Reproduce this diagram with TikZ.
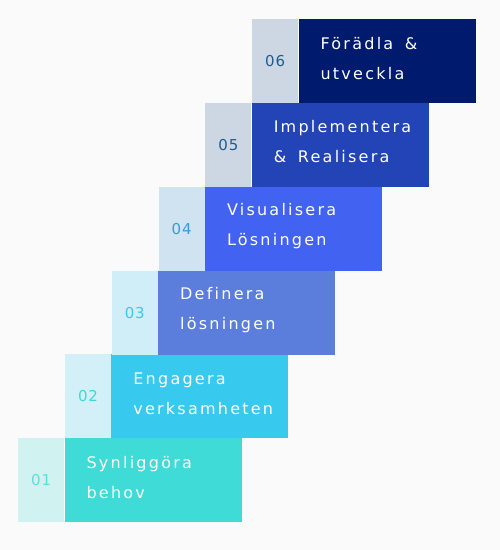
\documentclass[tikz,border=0pt]{standalone}
\usepackage{fontspec}
\newfontfamily\stepfont{DejaVu Sans}[LetterSpace=14,WordSpace=1.6,Ligatures=NoCommon]
\newfontfamily\numfont{DejaVu Sans}[LetterSpace=6]
\usetikzlibrary{positioning}

\definecolor{bgc}{HTML}{FAFAFA}
\definecolor{light1}{HTML}{D0F3F2}
\definecolor{light2}{HTML}{D3EFF8}
\definecolor{light3}{HTML}{D0EEF8}
\definecolor{light4}{HTML}{CFE3F1}
\definecolor{light5}{HTML}{CDD7E3}
\definecolor{light6}{HTML}{CDD7E3}
\definecolor{dark1}{HTML}{3FDBD7}
\definecolor{dark2}{HTML}{38C9EF}
\definecolor{dark3}{HTML}{5B7EDD}
\definecolor{dark4}{HTML}{4262F1}
\definecolor{dark5}{HTML}{2244B6}
\definecolor{dark6}{HTML}{001B6E}
\definecolor{num1}{HTML}{5CDFDB}
\definecolor{num2}{HTML}{3ED9D6}
\definecolor{num3}{HTML}{38C8EE}
\definecolor{num4}{HTML}{3A9AD6}
\definecolor{num5}{HTML}{1F5C8E}
\definecolor{num6}{HTML}{1F5C8E}

\tikzset{
  numbox/.style={anchor=north west, minimum width=46pt, minimum height=84pt,
    inner sep=0pt, font=\numfont\fontsize{15}{15}\selectfont},
  stepbox/.style={anchor=north west, minimum width=177pt, minimum height=84pt,
    inner sep=0pt},
  steptext/.style={anchor=west, inner sep=0pt, align=left, text=white,
    font=\stepfont\fontsize{16}{30}\selectfont}
}

\begin{document}
\begin{tikzpicture}[x=1pt,y=-1pt]
  \fill[bgc] (0,0) rectangle (500,550);
  \useasboundingbox (0,0) rectangle (500,550);
  \foreach \i/\first/\second in {1/Synliggöra/behov, 2/Engagera/verksamheten,
      3/Definera/lösningen, 4/Visualisera/Lösningen,
      5/Implementera/\& Realisera, 6/Förädla \&/utveckla}{
    \node[numbox, fill=light\i, text=num\i] (num\i)
      at ({18+(\i-1)*46.8}, {438-(\i-1)*83.8}) {0\i};
    \node[stepbox, fill=dark\i] (box\i) at (num\i.north east) {};
    \node[steptext, right=22pt of box\i.west, anchor=west, yshift=3pt] (lbl\i)
      {\first\\\second};
  }
\end{tikzpicture}
\end{document}
